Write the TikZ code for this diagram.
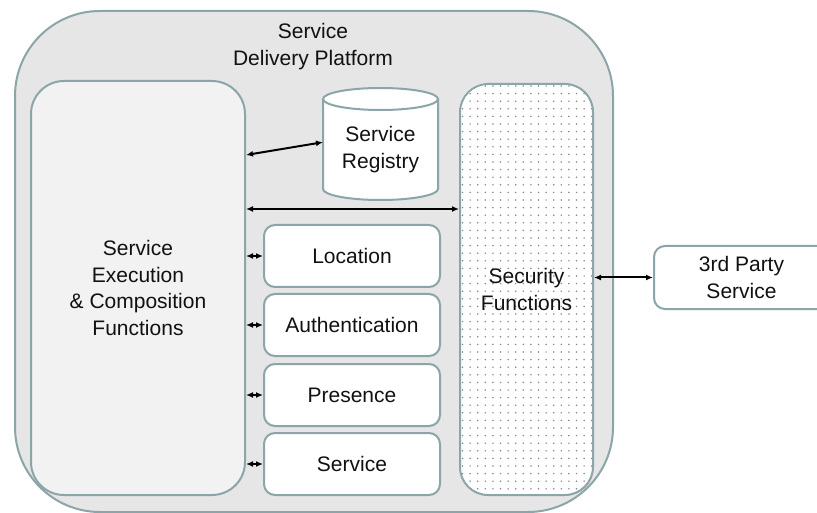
\documentclass[tikz,border=0pt]{standalone}
\usepackage{fontspec}
\setmainfont{Liberation Sans}
\usetikzlibrary{arrows.meta}
\definecolor{edgec}{RGB}{140,165,168}
\definecolor{outerfill}{RGB}{230,230,230}
\definecolor{leftfill}{RGB}{242,242,242}
\definecolor{dotc}{RGB}{135,135,135}
\definecolor{txtc}{RGB}{17,17,17}
\tikzset{
  box/.style={draw=edgec, line width=2pt, anchor=north west, inner sep=0pt,
    align=center, text=txtc, font=\fontsize{21}{26.5}\selectfont},
  smallbox/.style={box, fill=white, rounded corners=11pt, minimum width=176pt, minimum height=62pt},
  conn/.style={{Latex[length=7pt,width=6pt]}-{Latex[length=7pt,width=6pt]}, line width=2pt, black},
  lbl/.style={text=txtc, align=center, font=\fontsize{21}{26.5}\selectfont, inner sep=0pt}
}
\begin{document}
\begin{tikzpicture}[x=1pt,y=-1pt]
\useasboundingbox (0,0) rectangle (817,513);
\clip (0,0) rectangle (817,513);
% outer platform
\node[box, fill=outerfill, rounded corners=85pt, minimum width=598pt, minimum height=501pt] (sdp) at (14,10) {};
\node[lbl] (title) at (313,46.5) {Service\\Delivery Platform};
% left box
\node[box, fill=leftfill, rounded corners=33pt, minimum width=214pt, minimum height=414pt] (sec) at (30,80) {Service\\Execution\\\& Composition\\Functions};
% registry cylinder
\node[anchor=north west, minimum width=115pt, minimum height=112pt, inner sep=0pt] (reg) at (323,88) {};
\draw[edgec, line width=2pt, fill=white] (323,99) -- (323,189) arc[start angle=180, end angle=360, x radius=57.5pt, y radius=11pt] -- (438,99);
\draw[edgec, line width=2pt, fill=white] (380.5,99) ellipse[x radius=57.5pt, y radius=11pt];
\node[lbl] (regtxt) at (380.5,149.5) {Service\\Registry};
% security functions
\begin{scope}
\clip[rounded corners=28pt] (459,83) rectangle (592,494);
\fill[white] (459,83) rectangle (592,494);
\foreach \i in {0,...,17}{
  \foreach \j in {0,...,54}{
    \fill[dotc] (462.5+\i*7.6, 86+\j*7.6) circle (0.85pt);
  }
}
\end{scope}
\node[box, rounded corners=28pt, minimum width=133pt, minimum height=411pt] (secf) at (459,83) {Security\\Functions};
% small boxes
\node[smallbox] (loc) at (263,224) {Location};
\node[smallbox] (auth) at (263,293) {Authentication};
\node[smallbox] (pres) at (263,363) {Presence};
\node[smallbox] (svc) at (263,432) {Service};
% 3rd party
\node[box, fill=white, rounded corners=11pt, minimum width=175pt, minimum height=63pt] (tp) at (653,245) {3rd Party\\Service};
% connectors
\draw[conn] ([yshift=-75pt]sec.north east) -- ([yshift=2pt]reg.west);
\draw[conn] ([yshift=-129pt]sec.north east) -- ([yshift=-126pt]secf.north west);
\draw[conn] (sec.east |- loc.west) -- (loc.west);
\draw[conn] (sec.east |- auth.west) -- (auth.west);
\draw[conn] (sec.east |- pres.west) -- (pres.west);
\draw[conn] (sec.east |- svc.west) -- (svc.west);
\draw[conn] (secf.east |- tp.west) -- (tp.west);
\end{tikzpicture}
\end{document}
